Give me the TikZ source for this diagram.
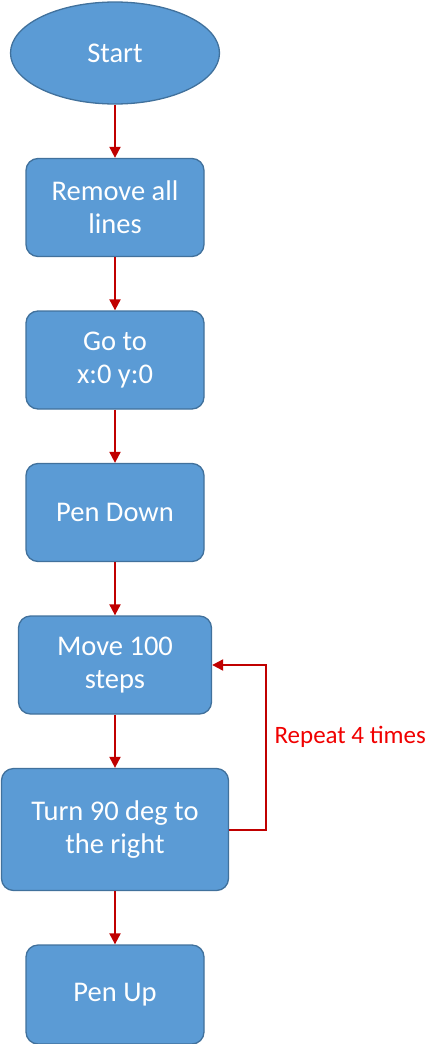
\documentclass[tikz,border=0pt]{standalone}
\usepackage{fontspec}
\setmainfont{Carlito}
\usepackage{tikz}
\usetikzlibrary{arrows.meta, positioning, shapes.geometric}
\definecolor{boxblue}{HTML}{5B9BD5}
\definecolor{boxedge}{HTML}{41719C}
\definecolor{flowred}{HTML}{C00000}
\definecolor{looptext}{HTML}{F00000}
\begin{document}
\begin{tikzpicture}[x=1pt, y=1pt,
    block/.style={rectangle, rounded corners=12pt, draw=boxedge, fill=boxblue, line width=1.3pt,
                  minimum width=178pt, minimum height=98pt, align=center, text=white,
                  font=\fontsize{28.5}{33}\selectfont, inner sep=0pt},
    terminal/.style={ellipse, draw=boxedge, fill=boxblue, line width=1.3pt,
                  minimum width=209pt, minimum height=102pt, text=white,
                  font=\fontsize{28.5}{33}\selectfont, inner sep=0pt},
    flow/.style={-{Triangle[length=11pt, width=11pt]}, line width=2pt, flowred},
    node distance=53.2pt
]
\useasboundingbox (0,0) rectangle (441,-1044);
\node[terminal] (start) at (115,-53) {Start};
\node[block, below=of start] (clear) {Remove all\\lines};
\node[block, below=of clear] (home) {Go to\\x:0 y:0};
\node[block, below=of home] (pendown) {Pen Down};
\node[block, below=of pendown, minimum width=193pt] (move) {Move 100\\steps};
\node[block, below=of move, minimum width=227pt, minimum height=122pt] (turn) {Turn 90 deg to\\the right};
\node[block, below=of turn, minimum height=99pt] (penup) {Pen Up};
\node[anchor=west, text=looptext, font=\fontsize{25}{29}\selectfont] (rep) at (271,-737) {Repeat 4 times};
\coordinate (loop) at (266,-745);
\draw[flow] (start) -- (clear);
\draw[flow] (clear) -- (home);
\draw[flow] (home) -- (pendown);
\draw[flow] (pendown) -- (move);
\draw[flow] (move) -- (turn);
\draw[flow] (turn) -- (penup);
\draw[flow] (turn.east) -| (loop) |- (move.east);
\end{tikzpicture}
\end{document}
